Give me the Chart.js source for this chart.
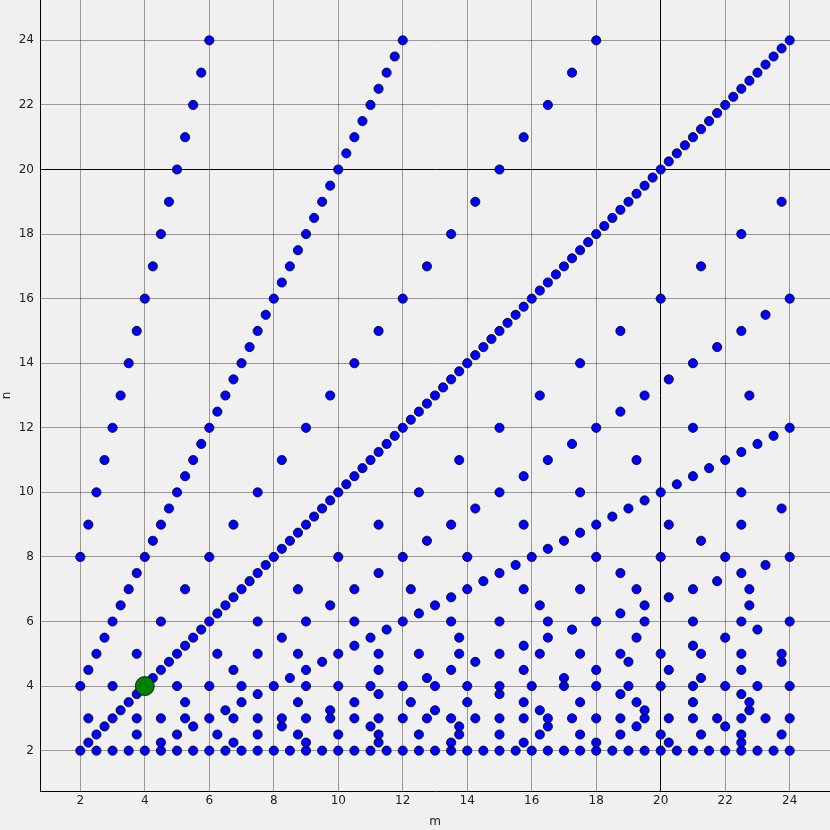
<!DOCTYPE html>
<html>
<head>
<meta charset="utf-8">
<script src="https://cdn.jsdelivr.net/npm/chart.js@4"></script>
<style>
  html, body { margin: 0; padding: 0; background: #f0f0f0; }
  #wrap { width: 830px; height: 830px; }
</style>
</head>
<body>
<div id="wrap"><canvas id="pairsChart" width="830" height="830"></canvas></div>
<script>
// one row per n value, with the m values that appear on that row
const rowN = [
  2, 2.25, 2.5, 2.75, 3, 3.25, 3.5, 3.75, 4, 4.25, 4.5, 4.75, 5, 5.25, 5.5, 5.75,
  6, 6.25, 6.5, 6.75, 7, 7.25, 7.5, 7.75, 8, 8.25, 8.5, 8.75, 9, 9.25, 9.5, 9.75,
  10, 10.25, 10.5, 10.75, 11, 11.25, 11.5, 11.75, 12, 12.25, 12.5, 12.75, 13, 13.25, 13.5, 13.75,
  14, 14.25, 14.5, 14.75, 15, 15.25, 15.5, 15.75, 16, 16.25, 16.5, 16.75, 17, 17.25, 17.5, 17.75,
  18, 18.25, 18.5, 18.75, 19, 19.25, 19.5, 19.75, 20, 20.25, 20.5, 20.75, 21, 21.25, 21.5, 21.75,
  22, 22.25, 22.5, 22.75, 23, 23.25, 23.5, 23.75, 24
];

const rowM = [
  [2, 2.5, 3, 3.5, 4, 4.5, 5, 5.5, 6, 6.5, 7, 7.5, 8, 8.5, 9, 9.5, 10, 10.5, 11, 11.5, 12, 12.5, 13, 13.5, 14, 14.5, 15, 15.5, 16, 16.5, 17, 17.5, 18, 18.5, 19, 19.5, 20, 20.5, 21, 21.5, 22, 22.5, 23, 23.5, 24],
  [2.25, 4.5, 6.75, 9, 11.25, 13.5, 15.75, 18, 20.25, 22.5],
  [2.5, 3.75, 5, 6.25, 7.5, 8.75, 10, 11.25, 12.5, 13.75, 15, 16.25, 17.5, 18.75, 20, 21.25, 22.5, 23.75],
  [2.75, 5.5, 8.25, 11, 13.75, 16.5, 19.25, 22],
  [2.25, 3, 3.75, 4.5, 5.25, 6, 6.75, 7.5, 8.25, 9, 9.75, 10.5, 11.25, 12, 12.75, 13.5, 14.25, 15, 15.75, 16.5, 17.25, 18, 18.75, 19.5, 20.25, 21, 21.75, 22.5, 23.25, 24],
  [3.25, 6.5, 9.75, 13, 16.25, 19.5, 22.75],
  [3.5, 5.25, 7, 8.75, 10.5, 12.25, 14, 15.75, 17.5, 19.25, 21, 22.75],
  [3.75, 7.5, 11.25, 15, 18.75, 22.5],
  [2, 3, 4, 5, 6, 7, 8, 9, 10, 11, 12, 13, 14, 15, 16, 17, 18, 19, 20, 21, 22, 23, 24],
  [4.25, 8.5, 12.75, 17, 21.25],
  [2.25, 4.5, 6.75, 9, 11.25, 13.5, 15.75, 18, 20.25, 22.5],
  [4.75, 9.5, 14.25, 19, 23.75],
  [2.5, 3.75, 5, 6.25, 7.5, 8.75, 10, 11.25, 12.5, 13.75, 15, 16.25, 17.5, 18.75, 20, 21.25, 22.5, 23.75],
  [5.25, 10.5, 15.75, 21],
  [2.75, 5.5, 8.25, 11, 13.75, 16.5, 19.25, 22],
  [5.75, 11.5, 17.25, 23],
  [3, 4.5, 6, 7.5, 9, 10.5, 12, 13.5, 15, 16.5, 18, 19.5, 21, 22.5, 24],
  [6.25, 12.5, 18.75],
  [3.25, 6.5, 9.75, 13, 16.25, 19.5, 22.75],
  [6.75, 13.5, 20.25],
  [3.5, 5.25, 7, 8.75, 10.5, 12.25, 14, 15.75, 17.5, 19.25, 21, 22.75],
  [7.25, 14.5, 21.75],
  [3.75, 7.5, 11.25, 15, 18.75, 22.5],
  [7.75, 15.5, 23.25],
  [2, 4, 6, 8, 10, 12, 14, 16, 18, 20, 22, 24],
  [8.25, 16.5],
  [4.25, 8.5, 12.75, 17, 21.25],
  [8.75, 17.5],
  [2.25, 4.5, 6.75, 9, 11.25, 13.5, 15.75, 18, 20.25, 22.5],
  [9.25, 18.5],
  [4.75, 9.5, 14.25, 19, 23.75],
  [9.75, 19.5],
  [2.5, 5, 7.5, 10, 12.5, 15, 17.5, 20, 22.5],
  [10.25, 20.5],
  [5.25, 10.5, 15.75, 21],
  [10.75, 21.5],
  [2.75, 5.5, 8.25, 11, 13.75, 16.5, 19.25, 22],
  [11.25, 22.5],
  [5.75, 11.5, 17.25, 23],
  [11.75, 23.5],
  [3, 6, 9, 12, 15, 18, 21, 24],
  [12.25],
  [6.25, 12.5, 18.75],
  [12.75],
  [3.25, 6.5, 9.75, 13, 16.25, 19.5, 22.75],
  [13.25],
  [6.75, 13.5, 20.25],
  [13.75],
  [3.5, 7, 10.5, 14, 17.5, 21],
  [14.25],
  [7.25, 14.5, 21.75],
  [14.75],
  [3.75, 7.5, 11.25, 15, 18.75, 22.5],
  [15.25],
  [7.75, 15.5, 23.25],
  [15.75],
  [4, 8, 12, 16, 20, 24],
  [16.25],
  [8.25, 16.5],
  [16.75],
  [4.25, 8.5, 12.75, 17, 21.25],
  [17.25],
  [8.75, 17.5],
  [17.75],
  [4.5, 9, 13.5, 18, 22.5],
  [18.25],
  [9.25, 18.5],
  [18.75],
  [4.75, 9.5, 14.25, 19, 23.75],
  [19.25],
  [9.75, 19.5],
  [19.75],
  [5, 10, 15, 20],
  [20.25],
  [10.25, 20.5],
  [20.75],
  [5.25, 10.5, 15.75, 21],
  [21.25],
  [10.75, 21.5],
  [21.75],
  [5.5, 11, 16.5, 22],
  [22.25],
  [11.25, 22.5],
  [22.75],
  [5.75, 11.5, 17.25, 23],
  [23.25],
  [11.75, 23.5],
  [23.75],
  [6, 12, 18, 24]
];

// the single highlighted pair
const markedM = [4];
const markedN = [4];

const tickValues = [2, 4, 6, 8, 10, 12, 14, 16, 18, 20, 22, 24];
const refLine = 20;

const points = [];
rowN.forEach((n, i) => {
  rowM[i].forEach(m => points.push({ x: m, y: n }));
});
const marked = markedM.map((m, i) => ({ x: m, y: markedN[i] }));

const font = { family: "DejaVu Sans", size: 12 };
const gridColor = ctx => (ctx.tick && ctx.tick.value === refLine) ? "#000000" : "rgba(0,0,0,0.36)";

function axis(title, isX) {
  return {
    type: "linear",
    min: 0.75,
    max: 25.25,
    afterBuildTicks: s => { s.ticks = tickValues.map(v => ({ value: v })); },
    afterFit: s => {
      // plot area runs to the top and right edges of the canvas
      if (isX) { s.height = 39; s.paddingLeft = 0; s.paddingRight = 0; }
      else { s.width = 40; s.paddingTop = 0; s.paddingBottom = 0; }
    },
    grid: { color: gridColor, lineWidth: 1, drawTicks: false },
    border: { display: true, color: "#000000", width: 1 },
    ticks: { color: "#222222", font: font, padding: isX ? 3 : 6, maxRotation: 0 },
    title: {
      display: true, text: title, color: "#222222", font: font,
      padding: isX ? { top: 0, bottom: 1 } : { top: 0, bottom: 0 }
    }
  };
}

const config = {
  type: "scatter",
  data: {
    datasets: [
      {
        label: "marked",
        data: marked,
        backgroundColor: "#008000",
        borderColor: "#000000",
        borderWidth: 0.8,
        pointRadius: 9.5,
        pointHoverRadius: 9.5,
        order: 0
      },
      {
        label: "pairs",
        data: points,
        backgroundColor: "#0000ff",
        borderColor: "#000000",
        borderWidth: 0.8,
        pointRadius: 4.6,
        pointHoverRadius: 4.6,
        order: 1
      }
    ]
  },
  options: {
    responsive: false,
    animation: false,
    devicePixelRatio: 1,
    layout: { padding: 0, autoPadding: false },
    plugins: {
      legend: { display: false },
      tooltip: {
        callbacks: {
          label: function (item) {
            return `m=${item.raw.x}, n=${item.raw.y}`;
          }
        }
      }
    },
    scales: {
      x: axis("m", true),
      y: axis("n", false)
    }
  }
};

const pairsChart = new Chart(document.getElementById("pairsChart"), config);
</script>
</body>
</html>
